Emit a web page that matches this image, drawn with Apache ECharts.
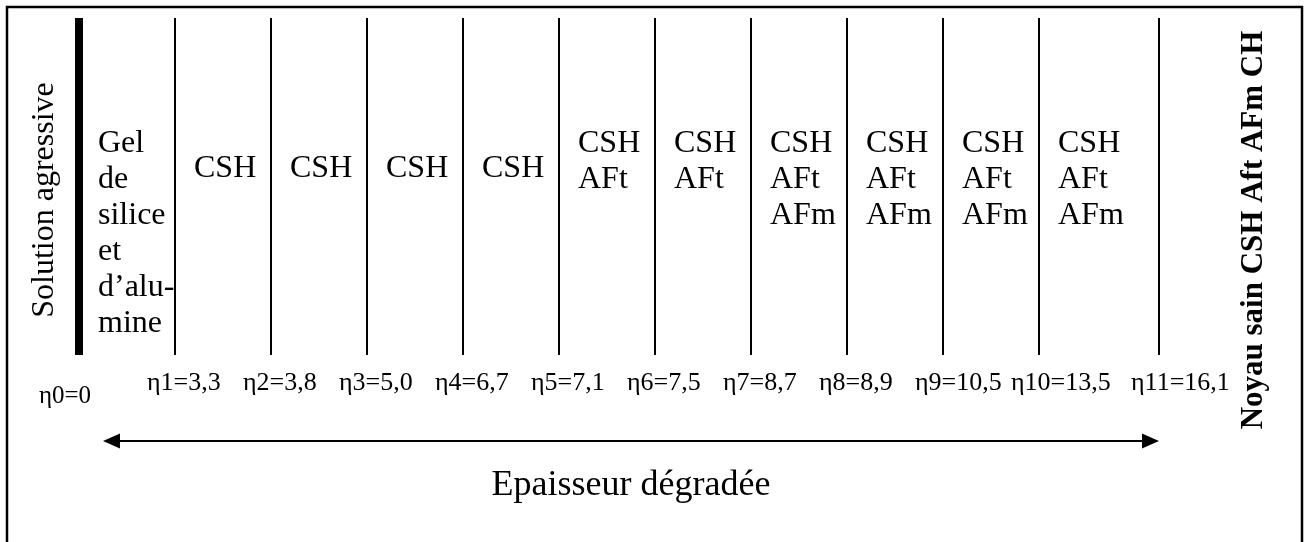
<!DOCTYPE html>
<html><head><meta charset="utf-8">
<script src="https://cdn.jsdelivr.net/npm/echarts@6/dist/echarts.min.js"></script>
<style>html,body{margin:0;padding:0;background:#fff}#c{width:1305px;height:542px}</style>
</head><body><div id="c"></div>
<script>
// ---- data ----
const boundaryLabels = ['η0=0','η1=3,3','η2=3,8','η3=5,0','η4=6,7','η5=7,1','η6=7,5','η7=8,7','η8=8,9','η9=10,5','η10=13,5','η11=16,1'];
// schematic (non-proportional) position of each front in the diagram
const boundaryPos = [0,1,2,3,4,5,6,7,8,9,10,11.25];
const zoneLabels = [
  'Gel\nde\nsilice\net\nd’alu-\nmine',
  'CSH','CSH','CSH','CSH',
  'CSH\nAFt','CSH\nAFt',
  'CSH\nAFt\nAFm','CSH\nAFt\nAFm','CSH\nAFt\nAFm','CSH\nAFt\nAFm'
];
const leftTitle = 'Solution agressive';
const rightTitle = 'Noyau sain CSH Aft AFm CH';
const axisTitle = 'Epaisseur dégradée';

const SERIF = '"Liberation Serif","Times New Roman",serif';
const chart = echarts.init(document.getElementById('c'), null, {renderer:'canvas'});

const option = {
  animation: false,
  backgroundColor: '#fff',
  grid: {left: 79, width: 1200, top: 18, height: 337},
  xAxis: {type: 'value', min: 0, max: 12.5, show: false},
  yAxis: {type: 'value', min: 0, max: 1, show: false},
  graphic: [
    {type: 'rect', shape: {x: 7, y: 7, width: 1295, height: 600},
     style: {fill: 'none', stroke: '#000', lineWidth: 2.5}, silent: true},
    {type: 'text', x: 45, y: 200, rotation: Math.PI / 2,
     style: {text: leftTitle, font: '32px ' + SERIF, fill: '#000', align: 'center', verticalAlign: 'middle'}},
    {type: 'text', x: 1254, y: 230, rotation: Math.PI / 2,
     style: {text: rightTitle, font: 'bold 31px ' + SERIF, fill: '#000', align: 'center', verticalAlign: 'middle'}}
  ],
  series: [
    { // front lines
      type: 'custom', name: 'fronts',
      data: boundaryPos.map((p, i) => [p, i]),
      renderItem: function (params, api) {
        const x = api.value(0), i = api.value(1);
        const t = api.coord([x, 1]), b = api.coord([x, 0]);
        return {type: 'line', shape: {x1: t[0], y1: t[1], x2: b[0], y2: b[1]},
                style: {stroke: '#000', lineWidth: i === 0 ? 8 : 2}};
      }
    },
    { // front labels
      type: 'custom', name: 'labels',
      data: boundaryPos.map((p, i) => [p, i]),
      renderItem: function (params, api) {
        const x = api.value(0), i = api.value(1);
        const b = api.coord([x, 0]);
        const first = i === 0;
        return {type: 'text', x: b[0] + (first ? -14 : -28), y: b[1] + (first ? 41 : 28),
                style: {text: boundaryLabels[i], font: (first ? '25px ' : '26px ') + SERIF, fill: '#000',
                        align: first ? 'center' : 'left', verticalAlign: 'middle'}};
      }
    },
    { // zone phases
      type: 'custom', name: 'zones',
      data: zoneLabels.map((t, i) => [boundaryPos[i], i]),
      renderItem: function (params, api) {
        const x = api.value(0), i = api.value(1);
        const t = api.coord([x, 1]);
        const n = zoneLabels[i].split('\n').length;
        return {type: 'text', x: t[0] + 19, y: t[1] + (n === 1 ? 133 : 108),
                style: {text: zoneLabels[i], font: '32px ' + SERIF, lineHeight: 36, fill: '#000',
                        align: 'left', verticalAlign: 'top'}};
      }
    },
    { // degraded thickness arrow
      type: 'custom', name: 'arrow',
      data: [[boundaryPos[0], boundaryPos[boundaryPos.length - 1]]],
      renderItem: function (params, api) {
        const a = api.coord([api.value(0), 0]), b = api.coord([api.value(1), 0]);
        const y = a[1] + 86, x1 = a[0] + 24, x2 = b[0];
        return {type: 'group', children: [
          {type: 'line', shape: {x1: x1 + 8, y1: y, x2: x2 - 8, y2: y}, style: {stroke: '#000', lineWidth: 2}},
          {type: 'polygon', shape: {points: [[x1, y], [x1 + 17, y - 7.5], [x1 + 17, y + 7.5]]}, style: {fill: '#000'}},
          {type: 'polygon', shape: {points: [[x2, y], [x2 - 17, y - 7.5], [x2 - 17, y + 7.5]]}, style: {fill: '#000'}},
          {type: 'text', x: (x1 + x2) / 2, y: y + 45,
           style: {text: axisTitle, font: '36px ' + SERIF, fill: '#000', align: 'center', verticalAlign: 'middle'}}
        ]};
      }
    }
  ]
};
chart.setOption(option);
</script>
</body></html>
